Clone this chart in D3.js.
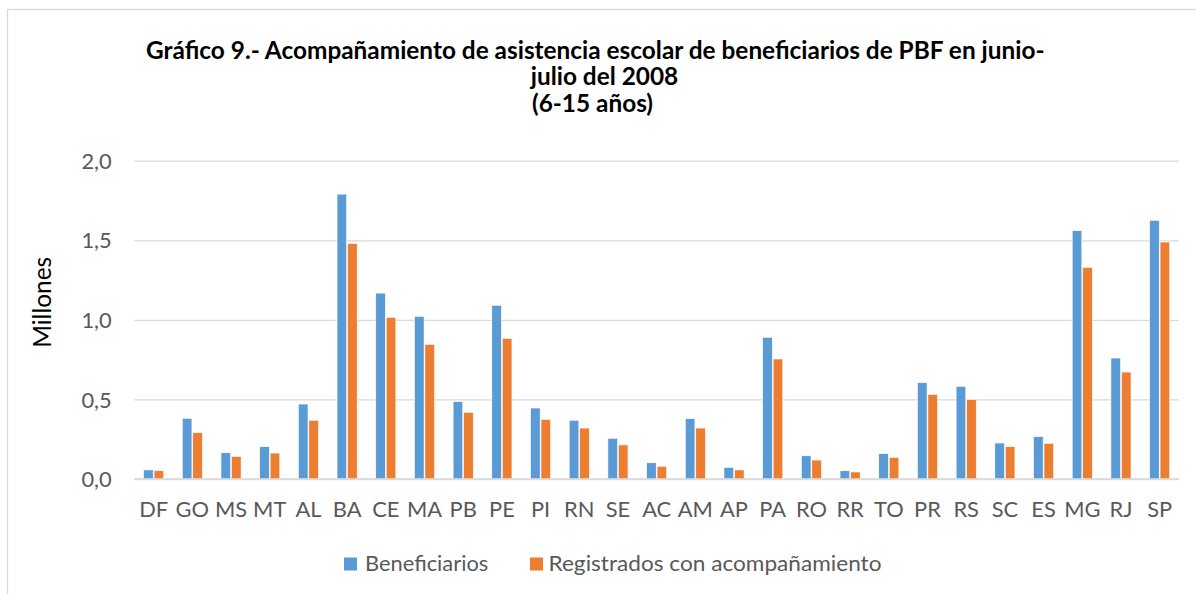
<!DOCTYPE html>
<html>
<head>
<meta charset="utf-8">
<script src="https://cdn.jsdelivr.net/npm/d3@7"></script>
<style>
  html, body { margin: 0; padding: 0; background: #fff; }
  svg { display: block; }
</style>
</head>
<body>
<svg id="chart" width="1196" height="594"></svg>
<script>
// ---- Data ----
const categories = ["DF","GO","MS","MT","AL","BA","CE","MA","PB","PE","PI","RN","SE","AC","AM","AP","PA","RO","RR","TO","PR","RS","SC","ES","MG","RJ","SP"];
const beneficiarios = [0.057,0.381,0.165,0.203,0.471,1.790,1.168,1.022,0.486,1.091,0.446,0.369,0.256,0.102,0.379,0.073,0.890,0.146,0.052,0.159,0.605,0.582,0.226,0.266,1.560,0.760,1.625];
const registrados = [0.052,0.291,0.142,0.163,0.369,1.480,1.016,0.846,0.419,0.884,0.375,0.320,0.214,0.080,0.320,0.057,0.754,0.119,0.044,0.136,0.532,0.500,0.203,0.224,1.330,0.672,1.489];
const seriesNames = ["Beneficiarios", "Registrados con acompañamiento"];
const yTicks = [0, 0.5, 1.0, 1.5, 2.0];
const titleLines = ["Gráfico 9.- Acompañamiento de asistencia escolar de beneficiarios de PBF en junio-", "julio del 2008", "(6-15 años)"];
const yAxisTitle = "Millones";

const colors = ["#5B9BD5", "#ED7D31"];
const FONT = "Lato, 'Open Sans', sans-serif";

const svg = d3.select("#chart");

// measure helper
function measure(text, size, weight) {
  const t = svg.append("text").attr("font-family", FONT).attr("font-size", size)
    .attr("font-weight", weight).text(text);
  const w = t.node().getComputedTextLength();
  t.remove();
  return w;
}
const regSize = 24 * 123.3 / measure("Beneficiarios", 24, "normal");
const boldSize = 24 * 899 / measure(titleLines[0], 24, "bold");
const yTitleSize = 24 * 91 / measure(yAxisTitle, 24, "normal");

// border
svg.append("rect").attr("x", 7.5).attr("y", 9.5).attr("width", 1300).attr("height", 700)
  .attr("fill", "none").attr("stroke", "#d9d9d9").attr("stroke-width", 1.3);

// scales
const pLeft = 134.3, pRight = 1179, pTop = 160.7, pBottom = 479;
const x0 = d3.scaleBand().domain(categories).range([pLeft, pRight]).paddingInner(0.48).paddingOuter(0.24);
const x1 = d3.scaleBand().domain([0, 1]).range([0, x0.bandwidth()]).paddingInner(0.08);
const y = d3.scaleLinear().domain([0, 2]).range([pBottom, pTop]);

const fmt = d3.formatLocale({decimal: ",", thousands: ".", grouping: [3], currency: ["", "€"]}).format(".1f");

// gridlines + y axis
const yAxis = svg.append("g").attr("transform", `translate(${pLeft},0)`)
  .call(d3.axisLeft(y).tickValues(yTicks).tickSize(-(pRight - pLeft)).tickPadding(22.6).tickFormat(fmt));
yAxis.select(".domain").remove();
yAxis.selectAll(".tick line").attr("stroke", "#d9d9d9").attr("stroke-width", 1.3);
yAxis.selectAll(".tick text").attr("fill", "#595959").attr("font-family", FONT)
  .attr("font-size", regSize).attr("dy", 7.6);

// bars
const data = categories.map((c, i) => ({cat: c, vals: [beneficiarios[i], registrados[i]]}));
const groups = svg.append("g").selectAll("g").data(data).join("g")
  .attr("transform", d => `translate(${x0(d.cat)},0)`);
groups.selectAll("rect").data(d => d.vals.map((v, k) => ({k, v}))).join("rect")
  .attr("x", d => x1(d.k)).attr("width", x1.bandwidth())
  .attr("y", d => y(d.v)).attr("height", d => y(0) - y(d.v))
  .attr("fill", d => colors[d.k]).attr("stroke", "#fff").attr("stroke-width", 0.6);

// x axis
const xAxis = svg.append("g").attr("transform", `translate(0,${pBottom})`)
  .call(d3.axisBottom(x0).tickSize(0));
xAxis.select(".domain").attr("stroke", "#d9d9d9").attr("stroke-width", 1.3)
  .attr("d", `M${pLeft},0H${pRight}`);
xAxis.selectAll(".tick text").attr("fill", "#595959").attr("font-family", FONT)
  .attr("font-size", regSize).attr("y", 517 - pBottom).attr("dy", 0);

// title
const titleX = [595.3, 604.5, 592.5];
const titleY = [58.5, 85.2, 111.9];
svg.append("g").selectAll("text").data(titleLines).join("text")
  .attr("x", (d, i) => titleX[i]).attr("y", (d, i) => titleY[i])
  .attr("text-anchor", "middle").attr("font-family", FONT).attr("font-weight", "bold")
  .attr("font-size", boldSize).attr("fill", "#000")
  .text(d => d);

// y axis title
svg.append("text").attr("transform", "translate(50.5,302.3) rotate(-90)")
  .attr("text-anchor", "middle").attr("font-family", FONT).attr("font-size", yTitleSize)
  .attr("fill", "#000").text(yAxisTitle);

// legend
const legendX = [344, 530];
const legendW = [123.3, 333];
const leg = svg.append("g").selectAll("g").data(seriesNames).join("g")
  .attr("transform", (d, i) => `translate(${legendX[i]},0)`);
leg.append("rect").attr("x", 0).attr("y", 557.5).attr("width", 13).attr("height", 13)
  .attr("fill", (d, i) => colors[i]);
leg.append("text").attr("x", (d, i) => i === 0 ? 21 : 18.5).attr("y", 571)
  .attr("font-family", FONT).attr("font-size", regSize).attr("fill", "#595959")
  .attr("textLength", (d, i) => legendW[i]).attr("lengthAdjust", "spacingAndGlyphs")
  .text(d => d);
</script>
</body>
</html>
